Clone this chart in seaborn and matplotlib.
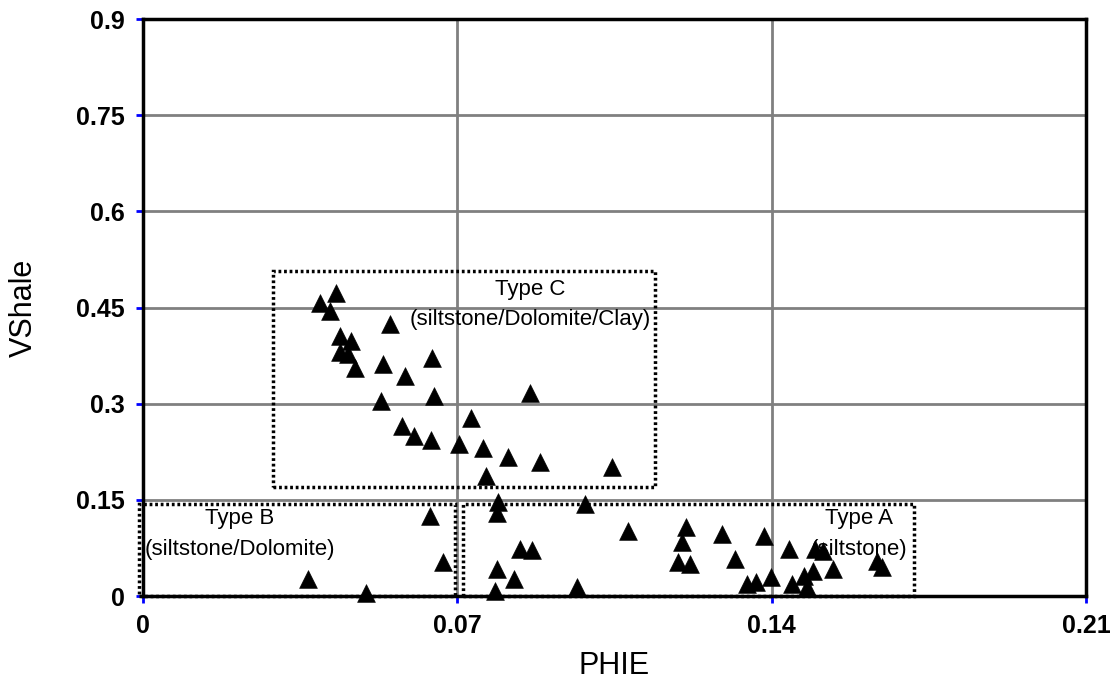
import matplotlib
matplotlib.use("Agg")
import matplotlib.pyplot as plt
from matplotlib.patches import Rectangle
import seaborn as sns
import pandas as pd

# Effective porosity (PHIE) and shale volume (VShale) per sample
phie = [
    0.0393, 0.0430, 0.0416, 0.0549, 0.0439, 0.0463, 0.0439, 0.0457, 0.0473,
    0.0534, 0.0584, 0.0644, 0.0530, 0.0649, 0.0862, 0.0576, 0.0604, 0.0641,
    0.0704, 0.0730, 0.0757, 0.0764, 0.0812, 0.0883, 0.1044,
    0.0639, 0.0669, 0.0368, 0.0496,
    0.0790, 0.0788, 0.0984, 0.1079, 0.1209, 0.1201, 0.1289, 0.1383, 0.0840,
    0.0866, 0.0788, 0.0826, 0.0784, 0.0966, 0.1192, 0.1218, 0.1318, 0.1345,
    0.1365, 0.1398, 0.1439, 0.1497, 0.1515, 0.1445, 0.1471, 0.1493, 0.1478,
    0.1537, 0.1634, 0.1645,
]
vshale = [
    0.4575, 0.4730, 0.4444, 0.4237, 0.4055, 0.3977, 0.3805, 0.3769, 0.3562,
    0.3614, 0.3432, 0.3718, 0.3042, 0.3120, 0.3173, 0.2653, 0.2497, 0.2435,
    0.2368, 0.2784, 0.2316, 0.1874, 0.2176, 0.2083, 0.2005,
    0.1251, 0.0525, 0.0265, 0.0050,
    0.1460, 0.1300, 0.1433, 0.1017, 0.1070, 0.0836, 0.0966, 0.0940, 0.0732,
    0.0721, 0.0421, 0.0265, 0.0080, 0.0135, 0.0525, 0.0498, 0.0576, 0.0187,
    0.0223, 0.0291, 0.0732, 0.0732, 0.0706, 0.0187, 0.0316, 0.0394, 0.0135,
    0.0421, 0.0550, 0.0447,
]

# Rock-type zones: (x0, x1, y0, y1) and their labels
zone_names = ["Type C\n(siltstone/Dolomite/Clay)", "Type B\n(siltstone/Dolomite)", "Type A\n(siltstone)"]
zone_x0 = [0.0290, -0.0010, 0.0713]
zone_x1 = [0.1140, 0.0695, 0.1716]
zone_y0 = [0.1693, 0.0005, 0.0005]
zone_y1 = [0.5067, 0.1433, 0.1433]
label_x = [0.0863, 0.0216, 0.1594]
label_y = [0.455, 0.097, 0.097]

x_ticks = [0, 0.07, 0.14, 0.21]
x_tick_labels = ["0", "0.07", "0.14", "0.21"]
y_ticks = [0, 0.15, 0.3, 0.45, 0.6, 0.75, 0.9]
y_tick_labels = ["0", "0.15", "0.3", "0.45", "0.6", "0.75", "0.9"]

sns.set_theme(style="white")
plt.rcParams["font.family"] = ["Liberation Sans", "DejaVu Sans"]
plt.rcParams["text.color"] = "black"
plt.rcParams["axes.labelcolor"] = "black"
plt.rcParams["xtick.labelcolor"] = "black"
plt.rcParams["ytick.labelcolor"] = "black"

df = pd.DataFrame({"PHIE": phie, "VShale": vshale})

fig = plt.figure(figsize=(11.14, 6.79), dpi=100)
ax = fig.add_axes([0.1284, 0.1222, 0.8465, 0.8498])

sns.scatterplot(data=df, x="PHIE", y="VShale", marker="^", s=165,
                color="black", edgecolor="black", linewidth=0.4,
                ax=ax, zorder=4, clip_on=False)

ax.set_xlim(0, 0.21)
ax.set_ylim(0, 0.9)
ax.set_xticks(x_ticks)
ax.set_xticklabels(x_tick_labels)
ax.set_yticks(y_ticks)
ax.set_yticklabels(y_tick_labels)

ax.grid(True, color="#808080", linewidth=2)
ax.set_axisbelow(True)

for side in ["left", "right", "top", "bottom"]:
    ax.spines[side].set_visible(True)
    ax.spines[side].set_color("black")
    ax.spines[side].set_linewidth(2.5)
    ax.spines[side].set_zorder(5)

ax.tick_params(axis="both", direction="out", length=5, width=2,
               color="blue", labelsize=18, pad=8, bottom=True, left=True,
               labelcolor="black")
for lab in ax.get_xticklabels() + ax.get_yticklabels():
    lab.set_fontweight("bold")

ax.set_xlabel("PHIE", fontsize=22, labelpad=9, color="black")
ax.set_ylabel("VShale", fontsize=22, labelpad=27, color="black")

for name, x0, x1, y0, y1, lx, ly in zip(zone_names, zone_x0, zone_x1,
                                        zone_y0, zone_y1, label_x, label_y):
    ax.add_patch(Rectangle((x0, y0), x1 - x0, y1 - y0, fill=False,
                           edgecolor="black", linewidth=2.5,
                           linestyle=(0, (0.8, 0.8)), clip_on=False, zorder=3))
    ax.text(lx, ly, name, ha="center", va="center", fontsize=16,
            linespacing=1.6, color="black", zorder=6)

fig.savefig("out.png", dpi=100, facecolor="white")
